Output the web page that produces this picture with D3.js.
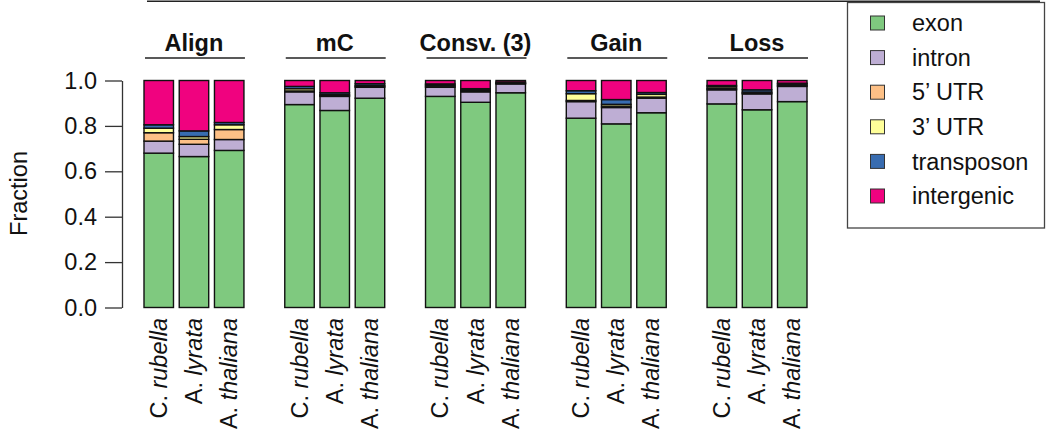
<!DOCTYPE html>
<html><head><meta charset="utf-8">
<script src="https://cdn.jsdelivr.net/npm/d3@7"></script>
<style>
body{margin:0;background:#fff;}
text{font-family:"Liberation Sans",Arial,Helvetica,sans-serif;}
</style></head>
<body><svg id="c" width="1049" height="435"></svg>
<script>
const groups = ["Align","mC","Consv. (3)","Gain","Loss"];
const speciesGenus = ["C.","A.","A."];
const speciesName = ["rubella","lyrata","thaliana"];
const features = ["exon","intron","5’ UTR","3’ UTR","transposon","intergenic"];
const featureColors = ["#7FC97F","#BEAED4","#FDC086","#FFFF99","#386CB0","#F0027F"];
const yTicks = [0,0.2,0.4,0.6,0.8,1.0];
// values in order: group-major, species-minor
const exon       = [0.680,0.665,0.692, 0.894,0.868,0.922, 0.930,0.904,0.946, 0.834,0.809,0.858, 0.897,0.871,0.907];
const intron     = [0.053,0.054,0.048, 0.056,0.062,0.048, 0.040,0.046,0.039, 0.073,0.072,0.064, 0.062,0.070,0.067];
const utr5       = [0.037,0.022,0.044, 0.004,0.004,0.004, 0.005,0.004,0.002, 0.005,0.006,0.005, 0.005,0.004,0.004];
const utr3       = [0.020,0.012,0.021, 0.010,0.004,0.004, 0.005,0.004,0.002, 0.030,0.008,0.012, 0.008,0.004,0.006];
const transposon = [0.015,0.025,0.010, 0.010,0.008,0.008, 0.005,0.006,0.004, 0.013,0.021,0.008, 0.006,0.010,0.004];
const intergenic = [0.195,0.222,0.185, 0.026,0.054,0.014, 0.015,0.036,0.007, 0.045,0.084,0.053, 0.022,0.041,0.012];

const series = [exon,intron,utr5,utr3,transposon,intergenic];
const rows = [];
groups.forEach((g,gi)=>speciesName.forEach((s,si)=>{
  const r = {group:g, si:si};
  features.forEach((f,fi)=>{ r[f] = series[fi][gi*3+si]; });
  rows.push(r);
}));

const svg = d3.select("#c");
const FS = 23.5;
const x0 = d3.scaleBand().domain(groups).range([144,807]).paddingInner(0.29);
const x1 = d3.scaleBand().domain([0,1,2]).range([0,x0.bandwidth()]).paddingInner(0.163);
const y = d3.scaleLinear().domain([0,1]).range([307.5,80.5]);

const stack = d3.stack().keys(features)(rows);
const color = d3.scaleOrdinal().domain(features).range(featureColors);

svg.append("g").selectAll("g").data(stack).join("g")
  .attr("fill",d=>color(d.key))
  .selectAll("rect").data(d=>d).join("rect")
  .attr("x",d=>x0(d.data.group)+x1(d.data.si))
  .attr("width",x1.bandwidth())
  .attr("y",d=>y(d[1]))
  .attr("height",d=>y(d[0])-y(d[1]))
  .attr("stroke","#111").attr("stroke-width",1.4);

// y axis
const ax = svg.append("g").attr("transform","translate(122,0)")
  .call(d3.axisLeft(y).tickValues(yTicks).tickFormat(d3.format(".1f")).tickSize(17).tickSizeOuter(0).tickPadding(8));
ax.select(".domain").attr("stroke","#333").attr("stroke-width",1.3);
ax.selectAll(".tick line").attr("stroke","#333").attr("stroke-width",1.3);
ax.selectAll(".tick text").attr("font-size",FS).attr("fill","#111")
  .attr("font-family","Liberation Sans, Arial, sans-serif");

svg.append("text").attr("transform","translate(27,193.5) rotate(-90)")
  .attr("text-anchor","middle").attr("font-size",FS).attr("fill","#111").text("Fraction");

// group titles & underlines
groups.forEach(g=>{
  const cx = x0(g)+x0.bandwidth()/2;
  svg.append("text").attr("x",cx).attr("y",51).attr("text-anchor","middle")
    .attr("font-size",FS).attr("font-weight","bold").attr("fill","#111").text(g);
  svg.append("line").attr("x1",x0(g)+1).attr("x2",x0(g)+x0.bandwidth()+1)
    .attr("y1",58).attr("y2",58).attr("stroke","#222").attr("stroke-width",1.6);
  // species labels
  [0,1,2].forEach(si=>{
    const bx = x0(g)+x1(si)+x1.bandwidth()/2 + 8;
    const t = svg.append("text").attr("transform",`translate(${bx},318) rotate(-90)`)
      .attr("text-anchor","end").attr("font-size",FS).attr("fill","#111");
    t.append("tspan").text(speciesGenus[si]+" ");
    t.append("tspan").attr("font-style","italic").text(speciesName[si]);
  });
});

// top line
svg.append("line").attr("x1",147).attr("x2",1040).attr("y1",1.2).attr("y2",1.2)
  .attr("stroke","#222").attr("stroke-width",1.6);

// legend
const lg = svg.append("g");
lg.append("rect").attr("x",847.5).attr("y",2.5).attr("width",197).attr("height",225.5)
  .attr("fill","#fff").attr("stroke","#444").attr("stroke-width",1.3);
features.forEach((f,i)=>{
  const cy = 23 + i*34.6;
  lg.append("rect").attr("x",870.5).attr("y",cy-7).attr("width",14).attr("height",14)
    .attr("fill",color(f)).attr("stroke","#333").attr("stroke-width",1);
  lg.append("text").attr("x",912).attr("y",cy).attr("dy","0.35em")
    .attr("font-size",FS).attr("fill","#111").text(f);
});
</script></body></html>
